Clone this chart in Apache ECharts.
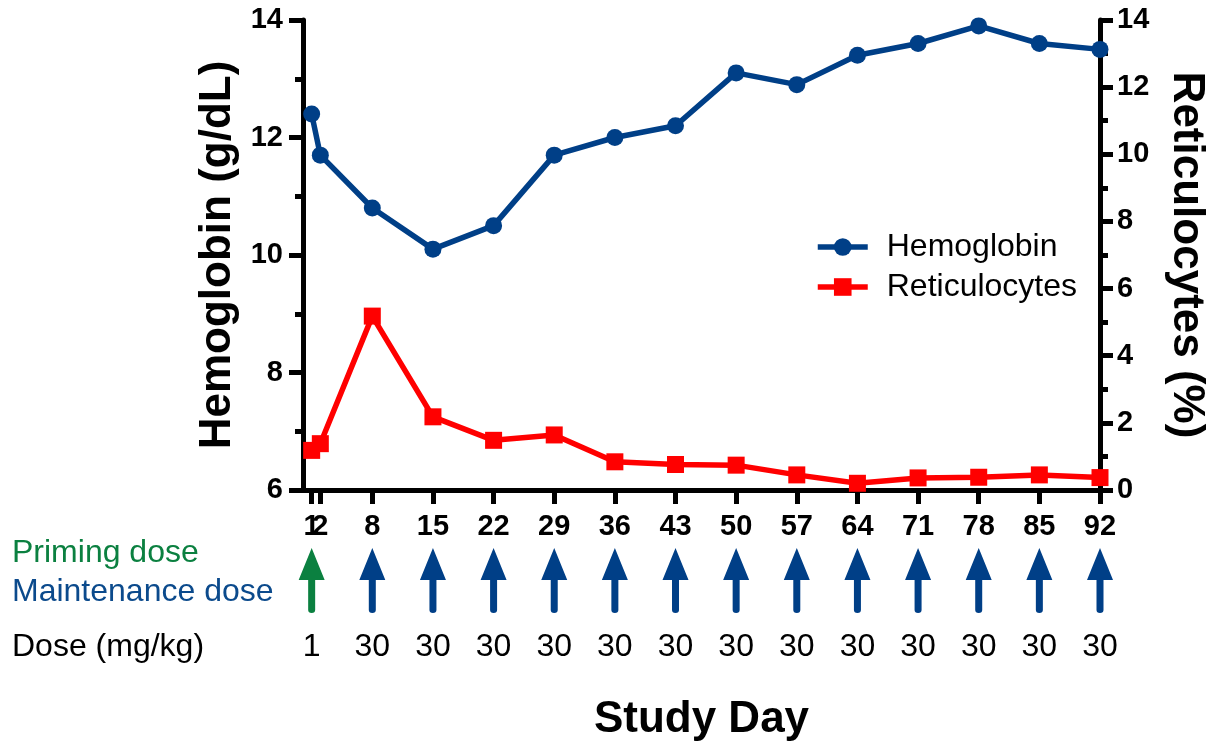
<!DOCTYPE html>
<html>
<head>
<meta charset="utf-8">
<script src="https://cdn.jsdelivr.net/npm/echarts@6/dist/echarts.min.js"></script>
<style>html,body{margin:0;padding:0;background:#fff}#c{width:1216px;height:746px}</style>
</head>
<body>
<div id="c"></div>
<script>
const days = [1, 2, 8, 15, 22, 29, 36, 43, 50, 57, 64, 71, 78, 85, 92];
const hemoglobin = [12.4, 11.7, 10.8, 10.1, 10.5, 11.7, 12.0, 12.2, 13.1, 12.9, 13.4, 13.6, 13.9, 13.6, 13.5];
const reticulocytes = [1.18, 1.38, 5.18, 2.18, 1.48, 1.64, 0.84, 0.76, 0.74, 0.45, 0.2, 0.36, 0.38, 0.45, 0.37];
const doseDays = [1, 8, 15, 22, 29, 36, 43, 50, 57, 64, 71, 78, 85, 92];
const doseTypes = ['priming', 'maintenance', 'maintenance', 'maintenance', 'maintenance', 'maintenance', 'maintenance', 'maintenance', 'maintenance', 'maintenance', 'maintenance', 'maintenance', 'maintenance', 'maintenance'];
const doses = [1, 30, 30, 30, 30, 30, 30, 30, 30, 30, 30, 30, 30, 30];
const hbTicks = [6, 8, 10, 12, 14];
const retTicks = [0, 2, 4, 6, 8, 10, 12, 14];

const FONT = '"Liberation Sans", Arial, sans-serif';
const BLUE = '#003f87';
const RED = '#ff0000';
const GREEN = '#0b8040';
const ARROW = 'path://M13,0 L26,32 L16.5,32 L16.5,62 Q16.5,65 13,65 Q9.5,65 9.5,62 L9.5,32 L0,32 Z';

// The day-2 label overlaps day 1 in the original; draw it on its own overlay axis so it is not auto-hidden.
const mainLabelDays = days.filter((d, i) => i !== 1);
const overlayLabelDays = [days[1]];

const chart = echarts.init(document.getElementById('c'), null, {renderer: 'canvas'});
const axisLineStyle = {color: '#000', width: 5};
const tickLabelStyle = {fontFamily: FONT, fontSize: 29, fontWeight: 'bold', color: '#000'};
chart.setOption({
  animation: false,
  backgroundColor: '#fff',
  grid: [
    {left: 303, right: 116, top: 20, bottom: 256, outerBoundsMode: 'none', containLabel: false},
    {left: 303, right: 116, top: 548, height: 65, outerBoundsMode: 'none', containLabel: false}
  ],
  legend: {
    left: 810, top: 226, orient: 'vertical',
    itemWidth: 50, itemHeight: 22, itemGap: 8,
    lineStyle: {width: 5.5},
    textStyle: {fontFamily: FONT, fontSize: 32, color: '#000', padding: [0, 0, 0, 14]},
    data: ['Hemoglobin', 'Reticulocytes']
  },
  xAxis: [
    {
      gridIndex: 0, type: 'value', min: 0, max: 92, position: 'bottom',
      name: 'Study Day', nameLocation: 'middle', nameGap: 208,
      nameTextStyle: {fontFamily: FONT, fontSize: 44, fontWeight: 'bold', color: '#000'},
      axisLine: {onZero: false, lineStyle: axisLineStyle},
      axisTick: {customValues: days, length: 14, lineStyle: {color: '#000', width: 5}},
      axisLabel: Object.assign({customValues: mainLabelDays, margin: 22, hideOverlap: false,
        showMinLabel: true, showMaxLabel: true}, tickLabelStyle),
      splitLine: {show: false}
    },
    {gridIndex: 1, type: 'value', min: 0, max: 92, show: false},
    {
      gridIndex: 0, type: 'value', min: 0, max: 92, position: 'bottom', offset: 0,
      axisLine: {show: false, onZero: false}, axisTick: {show: false}, splitLine: {show: false},
      axisLabel: Object.assign({customValues: overlayLabelDays, margin: 22, hideOverlap: false}, tickLabelStyle)
    }
  ],
  yAxis: [
    {
      gridIndex: 0, type: 'value', min: 6, max: 14, interval: 2, position: 'left',
      name: 'Hemoglobin (g/dL)', nameLocation: 'middle', nameGap: 44, nameRotate: 90,
      nameTextStyle: {fontFamily: FONT, fontSize: 44, fontWeight: 'bold', color: '#000'},
      axisLine: {show: true, onZero: false, lineStyle: axisLineStyle},
      axisTick: {show: true, length: 14, lineStyle: {color: '#000', width: 5}},
      minorTick: {show: true, splitNumber: 2, length: 8, lineStyle: {color: '#000', width: 5}},
      axisLabel: Object.assign({margin: 20, customValues: hbTicks}, tickLabelStyle),
      splitLine: {show: false}
    },
    {
      gridIndex: 0, type: 'value', min: 0, max: 14, interval: 2, position: 'right',
      name: 'Reticulocytes (%)', nameLocation: 'middle', nameGap: 64, nameRotate: -90,
      nameTextStyle: {fontFamily: FONT, fontSize: 44, fontWeight: 'bold', color: '#000'},
      axisLine: {show: true, onZero: false, lineStyle: axisLineStyle},
      axisTick: {show: true, length: 13, lineStyle: {color: '#000', width: 5}},
      minorTick: {show: true, splitNumber: 2, length: 8, lineStyle: {color: '#000', width: 5}},
      axisLabel: Object.assign({margin: 17, customValues: retTicks}, tickLabelStyle),
      splitLine: {show: false}
    },
    {gridIndex: 1, type: 'value', min: 0, max: 1, show: false}
  ],
  series: [
    {
      name: 'Hemoglobin', type: 'line', xAxisIndex: 0, yAxisIndex: 0,
      data: days.map((d, i) => [d, hemoglobin[i]]),
      symbol: 'circle', symbolSize: 17, clip: false,
      lineStyle: {color: BLUE, width: 5.5}, itemStyle: {color: BLUE}, z: 5
    },
    {
      name: 'Reticulocytes', type: 'line', xAxisIndex: 0, yAxisIndex: 1,
      data: days.map((d, i) => [d, reticulocytes[i]]),
      symbol: 'rect', symbolSize: 17, clip: false,
      lineStyle: {color: RED, width: 5.5}, itemStyle: {color: RED}, z: 4
    },
    {
      name: 'Doses', type: 'scatter', xAxisIndex: 1, yAxisIndex: 2,
      data: doseDays.map((d, i) => ({
        value: [d, 0.5],
        itemStyle: {color: doseTypes[i] === 'priming' ? GREEN : BLUE, opacity: 1}
      })),
      symbol: ARROW, symbolSize: [26, 65], clip: false,
      itemStyle: {opacity: 1},
      label: {
        show: true, position: 'bottom', distance: 18,
        fontFamily: FONT, fontSize: 32, color: '#000', opacity: 1,
        formatter: p => String(doses[p.dataIndex])
      },
      emphasis: {disabled: true}
    }
  ],
  graphic: [
    {type: 'text', left: 12, top: 537, style: {text: 'Priming dose', font: '32px ' + FONT, fill: GREEN}},
    {type: 'text', left: 12, top: 576, style: {text: 'Maintenance dose', font: '32px ' + FONT, fill: '#0b4a8c'}},
    {type: 'text', left: 12, top: 631, style: {text: 'Dose (mg/kg)', font: '32px ' + FONT, fill: '#000'}}
  ]
});
</script>
</body>
</html>
